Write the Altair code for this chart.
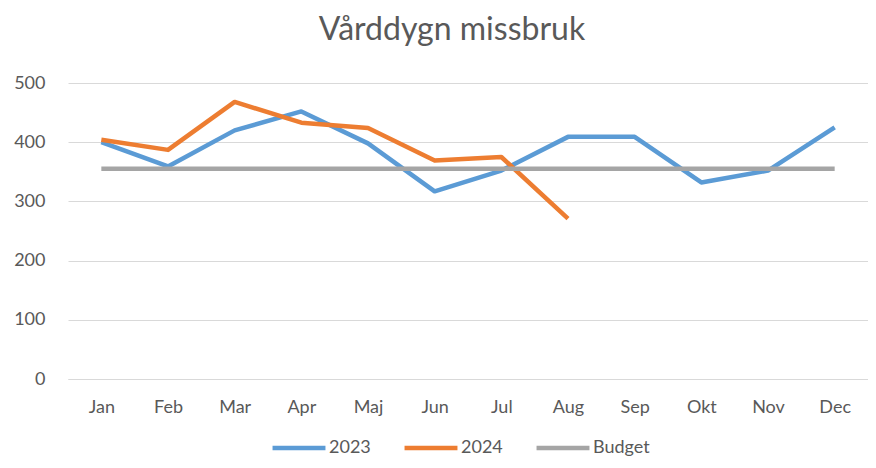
import altair as alt
import pandas as pd

months = ["Jan", "Feb", "Mar", "Apr", "Maj", "Jun", "Jul", "Aug", "Sep", "Okt", "Nov", "Dec"]
v2023 = [400, 359, 420, 452, 398, 317, 352, 409, 409, 332, 352, 425]
v2024 = [404, 387, 468, 433, 424, 369, 375, 271]
budget = [355] * 12

rows = []
for m, v in zip(months, v2023):
    rows.append({"Month": m, "Serie": "2023", "Value": v})
for m, v in zip(months, v2024):
    rows.append({"Month": m, "Serie": "2024", "Value": v})
for m, v in zip(months, budget):
    rows.append({"Month": m, "Serie": "Budget", "Value": v})
df = pd.DataFrame(rows)

FONT = "Lato"
TXT = "#595959"

chart = alt.Chart(df).mark_line(strokeWidth=4.5, strokeJoin="round", strokeCap="butt").encode(
    x=alt.X("Month:N", sort=months, scale=alt.Scale(padding=0.5),
            axis=alt.Axis(title=None, labelAngle=0, ticks=False, grid=False,
                          domainColor="#d9d9d9", labelPadding=19, labelFontSize=18,
                          labelColor=TXT, labelFont=FONT)),
    y=alt.Y("Value:Q", scale=alt.Scale(domain=[0, 500], nice=False),
            axis=alt.Axis(title=None, values=[0, 100, 200, 300, 400, 500], ticks=False,
                          domain=False, gridColor="#d9d9d9", labelPadding=23,
                          labelFontSize=18, labelColor=TXT, labelFont=FONT)),
    color=alt.Color("Serie:N",
                    scale=alt.Scale(domain=["2023", "2024", "Budget"],
                                    range=["#5B9BD5", "#ED7D31", "#A5A5A5"]),
                    legend=alt.Legend(title=None, orient="none", direction="horizontal",
                                      legendX=202, legendY=336, symbolType="stroke",
                                      symbolSize=2800, symbolStrokeWidth=4.5,
                                      labelFontSize=18, labelColor=TXT, labelFont=FONT,
                                      labelOffset=1, columnPadding=24)),
    order=alt.Order("Serie:N"),
).properties(
    width=800,
    height=296,
    autosize=alt.AutoSizeParams(type="none"),
    padding={"left": 60, "top": 75, "right": 0, "bottom": 81},
    title=alt.TitleParams("Vårddygn missbruk", fontSize=32, font=FONT, color=TXT,
                          fontWeight="normal", anchor="middle", dx=-16, offset=27),
).configure_view(stroke=None)

chart.save("out.html", embed_options={"renderer": "svg", "actions": False})
